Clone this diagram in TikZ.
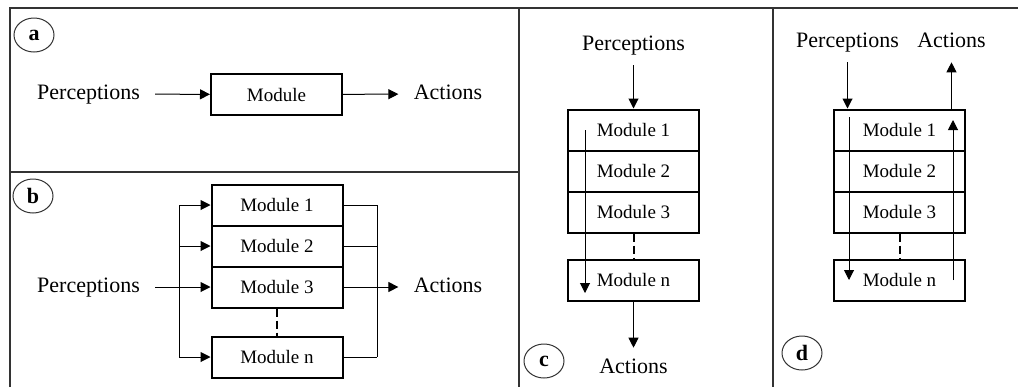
\documentclass[tikz,border=0pt]{standalone}
\usepackage{fontspec}
\setmainfont{Liberation Serif}
\usetikzlibrary{arrows.meta,shapes.geometric}
\begin{document}
\begin{tikzpicture}[x=0.5pt,y=-0.5pt,
        frame/.style={line width=0.75pt,black!80},
        mod/.style={draw,line width=1pt,minimum width=65.5pt,minimum height=20.5pt,inner sep=0pt,font=\fontsize{9.5}{11}\selectfont},
        lbl/.style={inner xsep=7.5pt,inner ysep=5pt,text height=7.5pt,text depth=2.4pt,font=\fontsize{11}{13}\selectfont},
        tag/.style={draw=black!80,ellipse,line width=0.5pt,minimum width=20pt,minimum height=17pt,inner sep=0pt,font=\fontsize{11}{13}\selectfont\bfseries},
        arr/.style={line width=0.5pt,-{Triangle[length=5pt,width=5pt]}},
        dots/.style={line width=1pt,dash pattern=on 4pt off 2pt}]
        \useasboundingbox (0,0) rectangle (1018,387);
        \draw[frame] (10,387) -- (10,8) -- (1018,8);
        \draw[frame] (10,172) -- (519,172);
        \draw[frame] (519,8) -- (519,387);
        \draw[frame] (773,8) -- (773,387);

        \node[tag] (taga) at (34,35) {a};
        \node[lbl] (pa) at (88.5,94) {Perceptions};
        \node[mod] (ma) at (276.5,94.5) {Module};
        \node[lbl] (aa) at (448,94) {Actions};
        \draw[arr] (pa) -- (ma);
        \draw[arr] (ma) -- (aa);

        \node[tag] (tagb) at (33,196) {b};
        \node[lbl] (pb) at (88.5,287) {Perceptions};
        \node[mod] (b1) at (277,205) {Module 1};
        \node[mod] (b2) at (277,246) {Module 2};
        \node[mod] (b3) at (277,287) {Module 3};
        \node[mod] (bn) at (277,357) {Module n};
        \node[lbl] (ab) at (448,287) {Actions};
        \coordinate (bl) at (179,0);
        \coordinate (br) at (377,0);
        \draw[arr] (pb) -- (b3);
        \draw (bl |- b1) -- (bl |- bn);
        \draw[arr] (bl |- b1) -- (b1);
        \draw[arr] (bl |- b2) -- (b2);
        \draw[arr] (bl |- bn) -- (bn);
        \draw (b1) -- (br |- b1);
        \draw (b2) -- (br |- b2);
        \draw (bn) -- (br |- bn);
        \draw (br |- b1) -- (br |- bn);
        \draw[arr] (b3) -- (ab);
        \draw[dots] (b3) -- (bn);

        \node[lbl] (pc) at (633.5,45) {Perceptions};
        \node[mod] (c1) at (633.5,130) {Module 1};
        \node[mod] (c2) at (633.5,171) {Module 2};
        \node[mod] (c3) at (633.5,212) {Module 3};
        \node[mod] (cn) at (633.5,280) {Module n};
        \node[lbl] (ac) at (633.5,368) {Actions};
        \node[tag] (tagc) at (544,361) {c};
        \draw[arr] (pc) -- (c1);
        \draw[arr] (cn) -- (ac);
        \draw[dots] (c3) -- (cn);
        \coordinate (cin) at (585,130);
        \coordinate (cout) at (585,293);
        \draw[arr] (cin) -- (cout);

        \node[lbl] (pd) at (847.5,42) {Perceptions};
        \node[lbl] (ad) at (951.5,42) {Actions};
        \node[mod] (d1) at (899.5,130) {Module 1};
        \node[mod] (d2) at (899.5,171) {Module 2};
        \node[mod] (d3) at (899.5,212) {Module 3};
        \node[mod] (dn) at (899.5,280) {Module n};
        \node[tag] (tagd) at (802,353) {d};
        \draw[arr] (pd) -- (pd |- d1.north);
        \draw[arr] (ad |- d1.north) -- (ad);
        \draw[dots] (d3) -- (dn);
        \coordinate (din) at (849,117);
        \coordinate (dout) at (849,280);
        \coordinate (uin) at (953,280);
        \coordinate (uout) at (953,120);
        \draw[arr] (din) -- (dout);
        \draw[arr] (uin) -- (uout);
\end{tikzpicture}
\end{document}
